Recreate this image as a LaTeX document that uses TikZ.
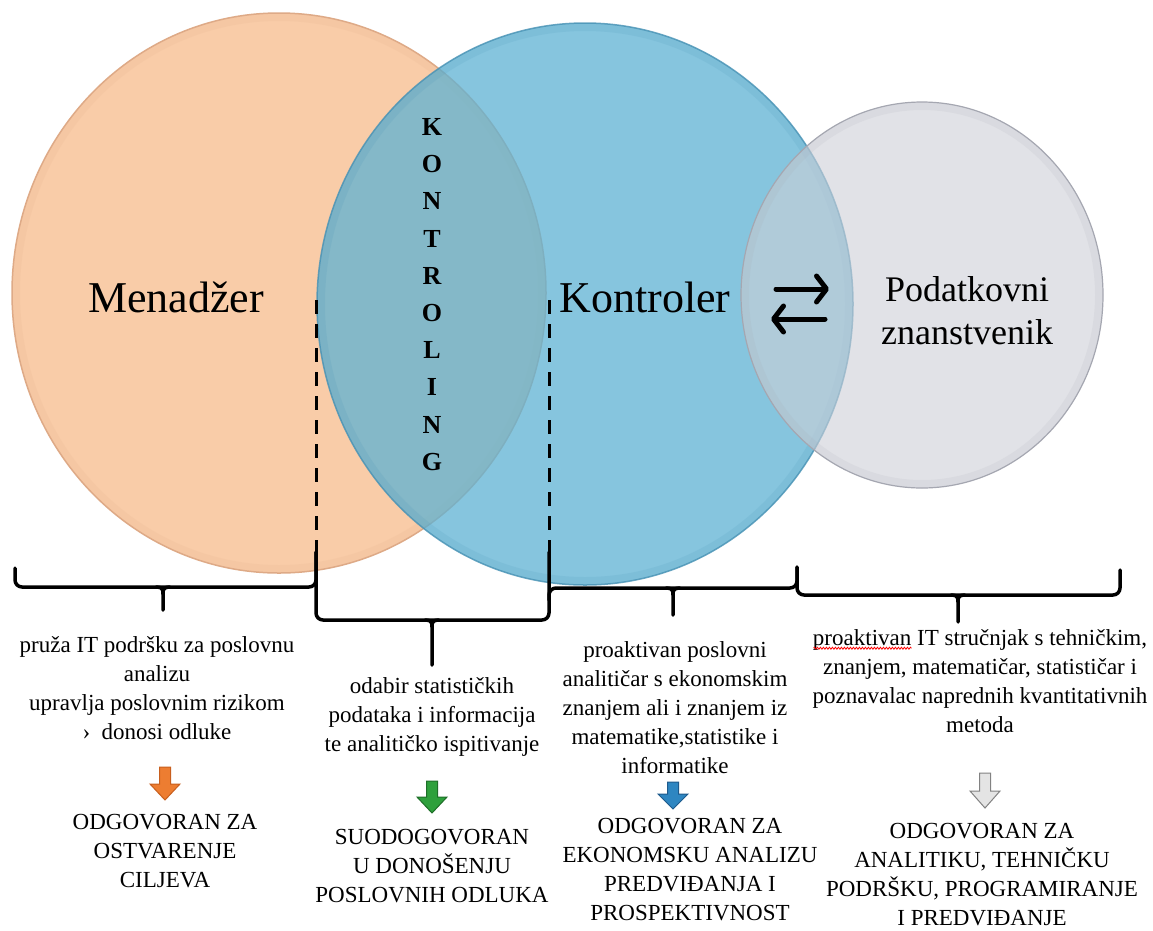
\documentclass[tikz,border=0pt]{standalone}
\usepackage{fontspec}
\setmainfont{Liberation Serif}
\usetikzlibrary{arrows.meta,decorations.pathmorphing,calc}
\definecolor{orfill}{RGB}{249,204,168}
\definecolor{ordraw}{RGB}{222,170,135}
\definecolor{blfill}{RGB}{94,178,211}
\definecolor{bldraw}{RGB}{70,145,180}
\definecolor{grfill}{RGB}{205,207,215}
\definecolor{grdraw}{RGB}{165,167,177}
\definecolor{aorange}{RGB}{237,125,49}
\definecolor{aorangeD}{RGB}{200,95,30}
\definecolor{agreen}{RGB}{46,160,60}
\definecolor{agreenD}{RGB}{30,110,40}
\definecolor{ablue}{RGB}{46,134,193}
\definecolor{ablueD}{RGB}{30,90,140}
\definecolor{agrey}{RGB}{228,228,228}
\definecolor{agreyD}{RGB}{130,130,130}
\tikzset{
  bracel/.style={line width=3.5pt, line cap=round, line join=round},
  brace/.style={bracel, rounded corners=7pt},
  dashline/.style={line width=3pt, dash pattern=on 14pt off 10pt},
  bevel/.style={line width=8pt, draw opacity=0.13},
  biglbl/.style={inner sep=0pt, font=\fontsize{44}{50}\selectfont},
  podlbl/.style={inner sep=0pt, align=center, font=\fontsize{36}{43}\selectfont},
  kletter/.style={inner sep=0pt, font=\fontsize{26}{30}\selectfont\bfseries},
  body/.style={inner sep=0pt, align=center, font=\fontsize{23}{29}\selectfont},
  swap/.style={line width=5pt, line cap=round, -{Straight Barb[length=10pt,width=26pt,round]}},
  wavy/.style={red, line width=0.8pt, decorate, decoration={snake, amplitude=1pt, segment length=3pt}},
  pics/bracetick/.style={code={
    \draw[bracel] (-7,0) .. controls (-1,0) and (0,2) .. (0,7) -- (0,#1);
    \draw[bracel] (7,0) .. controls (1,0) and (0,2) .. (0,7);}},
  pics/blockarrow/.style n args={4}{code={
    \filldraw[fill=#1, draw=#2, line width=1pt, line join=miter]
      (-5.5,0) -- (5.5,0) -- (5.5,#3) -- (15,#3) -- (0,#4) -- (-15,#3) -- (-5.5,#3) -- cycle;}}
}
\begin{document}
\begin{tikzpicture}[x=1pt,y=-1pt]
\fill[white] (0,0) rectangle (1153,930);
\useasboundingbox (0,0) rectangle (1153,930);

% circles
\coordinate (cM) at (279,293);
\coordinate (cK) at (585,304);
\coordinate (cP) at (922,295);
\fill[orfill] (cM) ellipse [x radius=267pt, y radius=280pt];
\draw[bevel, ordraw] (cM) ellipse [x radius=263pt, y radius=276pt];
\draw[ordraw, line width=1.5pt] (cM) ellipse [x radius=267pt, y radius=280pt];
\fill[blfill, fill opacity=0.75] (cK) ellipse [x radius=268pt, y radius=281pt];
\draw[bevel, bldraw] (cK) ellipse [x radius=264pt, y radius=277pt];
\draw[bldraw, line width=1.5pt, draw opacity=0.8] (cK) ellipse [x radius=268pt, y radius=281pt];
\fill[grfill, fill opacity=0.6] (cP) ellipse [x radius=181pt, y radius=193pt];
\draw[bevel, grdraw] (cP) ellipse [x radius=177pt, y radius=189pt];
\draw[grdraw, line width=1.2pt] (cP) ellipse [x radius=181pt, y radius=193pt];

% labels
\node[biglbl] (men) at (176,297) {Menadžer};
\node[biglbl] (kon) at (645,297) {Kontroler};
\node[podlbl] (pod) at (967,311) {Podatkovni\\znanstvenik};
\foreach \l [count=\i] in {K,O,N,T,R,O,L,I,N,G}
  \node[kletter] (k\i) at (432,{127+37.2*(\i-1)}) {\l};

% swap arrows
\coordinate (r1s) at (776,289);
\coordinate (r1e) at (829,289);
\coordinate (r2s) at (825,319);
\coordinate (r2e) at (771,319);
\draw[swap] (r1s) -- (r1e);
\draw[swap] (r2s) -- (r2e);

% dashed lines
\coordinate (d1t) at (316,300);
\coordinate (d1b) at (316,552);
\coordinate (d2t) at (549,300);
\coordinate (d2b) at (549,552);
\draw[dashline] (d1t) -- (d1b);
\draw[dashline] (d2t) -- (d2b);

% braces
\draw[brace] (15,568) -- (15,587) -- (316,587) -- (d1b);
\pic at (163,587) {bracetick=23};
\draw[brace] (d1b) -- (316,620) -- (549,620) -- (d2b);
\pic at (432,620) {bracetick=45};
\draw[brace] (549,600) -- (549,588) -- (797,588) -- (797,567);
\pic at (673,588) {bracetick=27};
\draw[brace] (797,567) -- (797,595) -- (1120,595) -- (1120,570);
\pic at (958,595) {bracetick=27};

% texts
\node[body] (t1) at (157,688) {pruža IT podršku za poslovnu\\analizu\\upravlja poslovnim rizikom\\›\ \ donosi odluke};
\node[body] (t2) at (432,717) {odabir statističkih\\podataka i informacija\\te analitičko ispitivanje};
\node[body] (t3) at (675,708) {proaktivan poslovni\\analitičar s ekonomskim\\znanjem ali i znanjem iz\\matematike,statistike i\\informatike};
\node[body] (t4) at (980,681) {proaktivan IT stručnjak s tehničkim,\\znanjem, matematičar, statističar i\\poznavalac naprednih kvantitativnih\\metoda};
\coordinate (u1) at ($(t4.north west)+(1,19)$);
\coordinate (u2) at ($(u1)+(98,0)$);
\draw[wavy] (u1) -- (u2);

\pic (a1) at (165,767) {blockarrow={aorange}{aorangeD}{17}{33}};
\pic (a2) at (432,781) {blockarrow={agreen}{agreenD}{16}{32}};
\pic (a3) at (673,782) {blockarrow={ablue}{ablueD}{12}{27}};
\pic (a4) at (985,773) {blockarrow={agrey}{agreyD}{18}{35}};

\node[body] (c1) at (165,851) {ODGOVORAN ZA\\OSTVARENJE\\CILJEVA};
\node[body] (c2) at (432,866) {SUODOGOVORAN\\U DONOŠENJU\\POSLOVNIH ODLUKA};
\node[body] (c3) at (690,870) {ODGOVORAN ZA\\EKONOMSKU ANALIZU\\PREDVIĐANJA I\\PROSPEKTIVNOST};
\node[body] (c4) at (982,875) {ODGOVORAN ZA\\ANALITIKU, TEHNIČKU\\PODRŠKU, PROGRAMIRANJE\\I PREDVIĐANJE};
\end{tikzpicture}
\end{document}
